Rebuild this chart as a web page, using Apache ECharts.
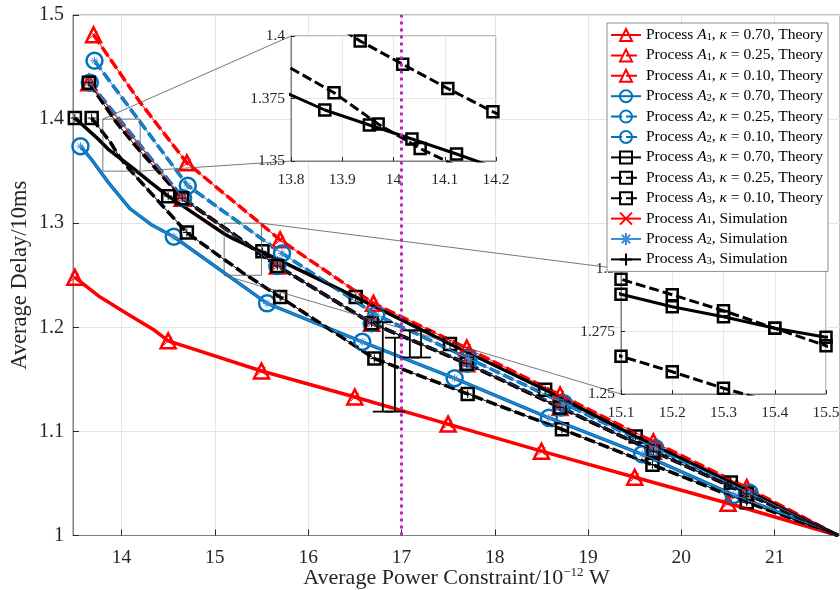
<!DOCTYPE html>
<html>
<head>
<meta charset="utf-8">
<script src="https://cdn.jsdelivr.net/npm/echarts@6/dist/echarts.min.js"></script>
<style>
html, body { margin: 0; padding: 0; background: #fff; }
#main { width: 840px; height: 590px; }
</style>
</head>
<body>
<div id="main"></div>
<script>
// axes
const xRange = [13.48, 21.7];
const yRange = [1, 1.5];
const xTicks = [14, 15, 16, 17, 18, 19, 20, 21];
const powerLimit = 17; // dotted line

// zoomed windows
const zoom1X = [13.8, 14.2];
const zoom1Y = [1.35, 1.4];
const zoom2X = [15.1, 15.5];
const zoom2Y = [1.25, 1.3];

// Process A1 (marked points, then extra curve points)
const a1k70 = [[13.5,1.248],[14.5,1.187],[15.5,1.158],[16.5,1.133],[17.5,1.107],[18.5,1.081],[19.5,1.056],[20.5,1.031]];
const a1k70Bend = [[13.77,1.229],[14.06,1.213],[14.34,1.198],[21.68,1.0]];
const a1k25 = [[13.7,1.481],[14.7,1.358],[15.7,1.284],[16.7,1.223],[17.7,1.180],[18.7,1.135],[19.7,1.090],[20.7,1.046]];
const a1k25Bend = [[14.2,1.416],[21.68,1.0]];
const a1k10 = [[13.65,1.435],[14.65,1.324],[15.67,1.259],[16.68,1.204],[17.7,1.165],[18.7,1.123],[19.7,1.081],[20.7,1.040]];
const a1k10Bend = [[21.68,1.0]];

// Process A2
const a2k70 = [[13.56,1.374],[14.56,1.287],[15.56,1.223],[16.58,1.186],[17.57,1.151],[18.58,1.113],[19.58,1.078],[20.56,1.039]];
const a2k70Bend = [[13.68,1.361],[13.86,1.339],[14.09,1.314],[14.33,1.298],[21.68,1.0]];
const a2k25 = [[13.71,1.456],[14.71,1.336],[15.72,1.271],[16.73,1.212],[17.72,1.170],[18.74,1.127],[19.72,1.084],[20.73,1.041]];
const a2k25Bend = [[21.68,1.0]];
const a2k10 = [[13.66,1.435],[14.66,1.324],[15.67,1.259],[16.68,1.204],[17.71,1.165],[18.71,1.123],[19.7,1.081],[20.7,1.040]];
const a2k10Bend = [[21.68,1.0]];

// Process A3 (+ points marked only inside the zoom windows)
const a3k70 = [[13.5,1.401],[14.5,1.326],[15.51,1.273],[16.51,1.229],[17.52,1.184],[18.54,1.140],[19.51,1.095],[20.53,1.051]];
const a3k70Bend = [[13.76,1.380],[14.3,1.340],[21.68,1.0]];
const a3k70Zoom = [[13.866,1.3704],[13.953,1.3644],[14.036,1.3588],[14.123,1.3528],[15.1,1.2899],[15.2,1.2849],[15.3,1.2809],[15.4,1.2763],[15.5,1.2727]];
const a3k25 = [[13.68,1.401],[14.7,1.291],[15.7,1.229],[16.71,1.170],[17.71,1.136],[18.72,1.102],[19.69,1.068],[20.7,1.032]];
const a3k25Bend = [[21.68,1.0]];
const a3k25Zoom = [[13.884,1.3773],[13.97,1.3648],[14.052,1.355],[15.1,1.2651],[15.2,1.2589],[15.3,1.2523]];
const a3k10 = [[13.65,1.435],[14.65,1.324],[15.67,1.259],[16.68,1.204],[17.7,1.165],[18.7,1.123],[19.7,1.081],[20.7,1.040]];
const a3k10Bend = [[21.68,1.0]];
const a3k10Zoom = [[13.935,1.398],[14.018,1.3887],[14.106,1.379],[14.194,1.3697],[15.1,1.2959],[15.2,1.2897],[15.3,1.2833],[15.4,1.2763],[15.5,1.2693]];

// error bars: x, low, high
const errBars = [[16.8,1.119,1.205],[16.93,1.119,1.190],[17.09,1.171,1.197],[17.21,1.171,1.197]];

const FONT = 'Liberation Serif';
const RED = '#ff0000', BLUE = '#0072bd', BLACK = '#000000', SIMBLUE = '#3d8ed6';
const TXT = '#262626';

// marked points keep the symbol, the others get none
function merge(marked, plain) {
  const items = marked.map(p => ({ value: p }))
    .concat(plain.map(p => ({ value: p, symbol: 'none' })));
  items.sort((a, b) => a.value[0] - b.value[0]);
  return items;
}

function theory(name, marks, others, color, dashed, symbol, size) {
  return {
    name: name, type: 'line', xAxisIndex: 0, yAxisIndex: 0,
    data: merge(marks, others),
    symbol: symbol, symbolSize: size,
    lineStyle: { color: color, width: 3.5, type: dashed ? [11, 4] : 'solid' },
    itemStyle: { color: 'rgba(0,0,0,0)', borderColor: color, borderWidth: 2.5 },
    z: 2
  };
}

function sim(name, marks, others, color, symbol) {
  return {
    name: name, type: 'line', xAxisIndex: 0, yAxisIndex: 0,
    data: merge(marks, others),
    symbol: symbol, symbolSize: 8,
    lineStyle: { color: color, width: 1 },
    itemStyle: { color: 'rgba(0,0,0,0)', borderColor: color, borderWidth: 1 },
    z: 3
  };
}

function inset(idx, marks, others, zoom, dashed) {
  return {
    name: 'zoom' + idx, type: 'line', xAxisIndex: idx, yAxisIndex: idx,
    data: merge(zoom, marks.concat(others)),
    symbol: 'rect', symbolSize: 11,
    lineStyle: { color: BLACK, width: 3, type: dashed ? [10, 4] : 'solid' },
    itemStyle: { color: 'rgba(0,0,0,0)', borderColor: BLACK, borderWidth: 2.5 },
    z: 6, silent: true
  };
}

const crossSym = 'path://M0,0L10,10M10,0L0,10';
const starSym = 'path://M5,0L5,10M0,5L10,5M1.5,1.5L8.5,8.5M8.5,1.5L1.5,8.5';
const plusSym = 'path://M5,0L5,10M0,5L10,5';

const names = ['A1 0.70','A1 0.25','A1 0.10','A2 0.70','A2 0.25','A2 0.10',
               'A3 0.70','A3 0.25','A3 0.10','A1 sim','A2 sim','A3 sim'];

const chart = echarts.init(document.getElementById('main'));

function insetAxes(gi, xr, yr) {
  return {
    x: {
      type: 'value', gridIndex: gi, min: xr[0], max: xr[1], interval: 0.1, z: 5,
      axisLine: { lineStyle: { color: '#7f7f7f' } },
      axisTick: { inside: true, length: 4, lineStyle: { color: TXT } },
      axisLabel: { fontFamily: FONT, fontSize: 15.5, color: TXT, margin: 11 },
      splitLine: { show: true, lineStyle: { color: '#e8e8e8' } }
    },
    y: {
      type: 'value', gridIndex: gi, min: yr[0], max: yr[1], interval: 0.025, z: 5,
      axisLine: { show: true, lineStyle: { color: '#7f7f7f' } },
      axisTick: { show: true, inside: true, length: 4, lineStyle: { color: TXT } },
      axisLabel: { fontFamily: FONT, fontSize: 15.5, color: TXT, margin: 6 },
      splitLine: { show: true, lineStyle: { color: '#e8e8e8' } }
    }
  };
}
const in1 = insetAxes(1, zoom1X, zoom1Y);
const in2 = insetAxes(2, zoom2X, zoom2Y);

const series = [
  theory('A1 0.70', a1k70, a1k70Bend, RED, false, 'triangle', 15),
  theory('A1 0.25', a1k25, a1k25Bend, RED, true, 'triangle', 15),
  theory('A1 0.10', a1k10, a1k10Bend, RED, true, 'triangle', 15),
  theory('A2 0.70', a2k70, a2k70Bend, BLUE, false, 'circle', 16),
  theory('A2 0.25', a2k25, a2k25Bend, BLUE, true, 'circle', 16),
  theory('A2 0.10', a2k10, a2k10Bend, BLUE, true, 'circle', 16),
  theory('A3 0.70', a3k70, a3k70Bend.concat(a3k70Zoom), BLACK, false, 'rect', 12),
  theory('A3 0.25', a3k25, a3k25Bend.concat(a3k25Zoom), BLACK, true, 'rect', 12),
  theory('A3 0.10', a3k10, a3k10Bend.concat(a3k10Zoom), BLACK, true, 'rect', 12),
  sim('A1 sim', a1k70, a1k70Bend, RED, crossSym),
  sim('A1 sim', a1k25, a1k25Bend, RED, crossSym),
  sim('A1 sim', a1k10, a1k10Bend, RED, crossSym),
  sim('A2 sim', a2k70, a2k70Bend, SIMBLUE, starSym),
  sim('A2 sim', a2k25, a2k25Bend, SIMBLUE, starSym),
  sim('A2 sim', a2k10, a2k10Bend, SIMBLUE, starSym),
  sim('A3 sim', a3k70, a3k70Bend.concat(a3k70Zoom), BLACK, plusSym),
  sim('A3 sim', a3k25, a3k25Bend.concat(a3k25Zoom), BLACK, plusSym),
  sim('A3 sim', a3k10, a3k10Bend.concat(a3k10Zoom), BLACK, plusSym),
  {
    name: 'errbar', type: 'custom', xAxisIndex: 0, yAxisIndex: 0, z: 4,
    data: errBars, encode: { x: 0, y: [1, 2] },
    renderItem: function (params, api) {
      const lo = api.coord([api.value(0), api.value(1)]);
      const hi = api.coord([api.value(0), api.value(2)]);
      const w = 10;
      const st = { stroke: BLACK, lineWidth: 1.8 };
      return { type: 'group', children: [
        { type: 'line', shape: { x1: lo[0], y1: lo[1], x2: hi[0], y2: hi[1] }, style: st },
        { type: 'line', shape: { x1: lo[0] - w, y1: lo[1], x2: lo[0] + w, y2: lo[1] }, style: st },
        { type: 'line', shape: { x1: hi[0] - w, y1: hi[1], x2: hi[0] + w, y2: hi[1] }, style: st }
      ]};
    }
  },
  inset(1, a3k70, a3k70Bend, a3k70Zoom, false),
  inset(1, a3k25, a3k25Bend, a3k25Zoom, true),
  inset(1, a3k10, a3k10Bend, a3k10Zoom, true),
  inset(2, a3k70, a3k70Bend, a3k70Zoom, false),
  inset(2, a3k25, a3k25Bend, a3k25Zoom, true),
  inset(2, a3k10, a3k10Bend, a3k10Zoom, true),
  {
    name: 'limit', type: 'line', xAxisIndex: 0, yAxisIndex: 0, z: 9, silent: true,
    data: [[powerLimit, yRange[0]], [powerLimit, yRange[1]]],
    symbol: 'none',
    lineStyle: { color: '#c51ec5', width: 3, type: [3, 4] }
  }
];

chart.setOption({
  animation: false,
  backgroundColor: '#fff',
  grid: [
    { left: 73, top: 15, right: 0, bottom: 54.5, outerBoundsMode: 'none', show: true, borderColor: '#7f7f7f', borderWidth: 1, backgroundColor: 'rgba(0,0,0,0)' },
    { left: 291, top: 36, width: 205, height: 125, outerBoundsMode: 'none', show: true, borderColor: '#7f7f7f', backgroundColor: '#fff', z: 4 },
    { left: 621, top: 269, width: 205, height: 125, outerBoundsMode: 'none', show: true, borderColor: '#7f7f7f', backgroundColor: '#fff', z: 4 }
  ],
  xAxis: [
    {
      type: 'value', gridIndex: 0, min: xRange[0], max: xRange[1],
      axisLine: { lineStyle: { color: '#7f7f7f' } },
      axisTick: { inside: true, length: 6, customValues: xTicks, lineStyle: { color: TXT } },
      axisLabel: { customValues: xTicks, fontFamily: FONT, fontSize: 19.5, color: TXT, margin: 12 },
      splitLine: { show: true, lineStyle: { color: '#e6e6e6' } },
      name: '{n|Average Power Constraint/10}{p|\u221212}{n| W}',
      nameLocation: 'middle', nameGap: 31, nameMoveOverlap: false,
      nameTextStyle: {
        rich: {
          n: { fontFamily: FONT, fontSize: 22, color: TXT, lineHeight: 24 },
          p: { fontFamily: FONT, fontSize: 13, color: TXT, lineHeight: 24, verticalAlign: 'top' }
        }
      }
    },
    in1.x, in2.x
  ],
  yAxis: [
    {
      type: 'value', gridIndex: 0, min: yRange[0], max: yRange[1], interval: 0.1,
      axisLine: { show: true, lineStyle: { color: '#7f7f7f' } },
      axisTick: { show: true, inside: true, length: 6, lineStyle: { color: TXT } },
      axisLabel: { fontFamily: FONT, fontSize: 20, color: TXT, margin: 9 },
      splitLine: { show: true, lineStyle: { color: '#e6e6e6' } },
      name: 'Average Delay/10ms', nameLocation: 'middle', nameGap: 41, nameMoveOverlap: false,
      nameTextStyle: { fontFamily: FONT, fontSize: 22.5, color: TXT }
    },
    in1.y, in2.y
  ],
  legend: {
    data: names, orient: 'vertical', left: 607, top: 23, z: 10,
    padding: [4, 5, 4, 3], itemGap: 4.4, itemWidth: 30, itemHeight: 15,
    backgroundColor: '#fff', borderColor: '#8c8c8c', borderWidth: 1,
    selectedMode: false,
    formatter: function (name) {
      const p = name.split(' ');
      const n = p[0].slice(1);
      if (p[1] === 'sim') return '{t|Process }{i|A}{s|' + n + '}{t|, Simulation}';
      return '{t|Process }{i|A}{s|' + n + '}{t|, }{i|\u03ba}{t| = ' + p[1] + ', Theory}';
    },
    textStyle: {
      fontFamily: FONT, fontSize: 15.5, color: '#000',
      rich: {
        t: { fontFamily: FONT, fontSize: 15.5, color: '#000', lineHeight: 14 },
        i: { fontFamily: FONT, fontSize: 15.5, color: '#000', fontStyle: 'italic', lineHeight: 14 },
        s: { fontFamily: FONT, fontSize: 10, color: '#000', lineHeight: 14, verticalAlign: 'bottom' }
      }
    }
  },
  series: series
});

// zoom rectangles and connector lines
function px(gi, pt) { return chart.convertToPixel({ gridIndex: gi }, pt); }
const r1a = px(0, [zoom1X[0], zoom1Y[1]]), r1b = px(0, [zoom1X[1], zoom1Y[0]]);
const r2a = px(0, [zoom2X[0], zoom2Y[1]]), r2b = px(0, [zoom2X[1], zoom2Y[0]]);
const i1a = px(1, [zoom1X[0], zoom1Y[1]]), i1b = px(1, [zoom1X[0], zoom1Y[0]]);
const i2a = px(2, [zoom2X[0], zoom2Y[1]]), i2b = px(2, [zoom2X[0], zoom2Y[0]]);
const thin = { stroke: '#555', lineWidth: 0.8, fill: null };
chart.setOption({
  graphic: [
    { type: 'rect', z: 3, shape: { x: r1a[0], y: r1a[1], width: r1b[0] - r1a[0], height: r1b[1] - r1a[1] }, style: thin },
    { type: 'rect', z: 3, shape: { x: r2a[0], y: r2a[1], width: r2b[0] - r2a[0], height: r2b[1] - r2a[1] }, style: thin },
    { type: 'line', z: 3, shape: { x1: r1a[0], y1: r1a[1], x2: i1a[0], y2: i1a[1] }, style: thin },
    { type: 'line', z: 3, shape: { x1: r1b[0], y1: r1b[1], x2: i1b[0], y2: i1b[1] }, style: thin },
    { type: 'line', z: 3, shape: { x1: r2b[0], y1: r2a[1], x2: i2a[0], y2: i2a[1] }, style: thin },
    { type: 'line', z: 3, shape: { x1: r2a[0], y1: r2b[1], x2: i2b[0], y2: i2b[1] }, style: thin }
  ]
});
</script>
</body>
</html>
